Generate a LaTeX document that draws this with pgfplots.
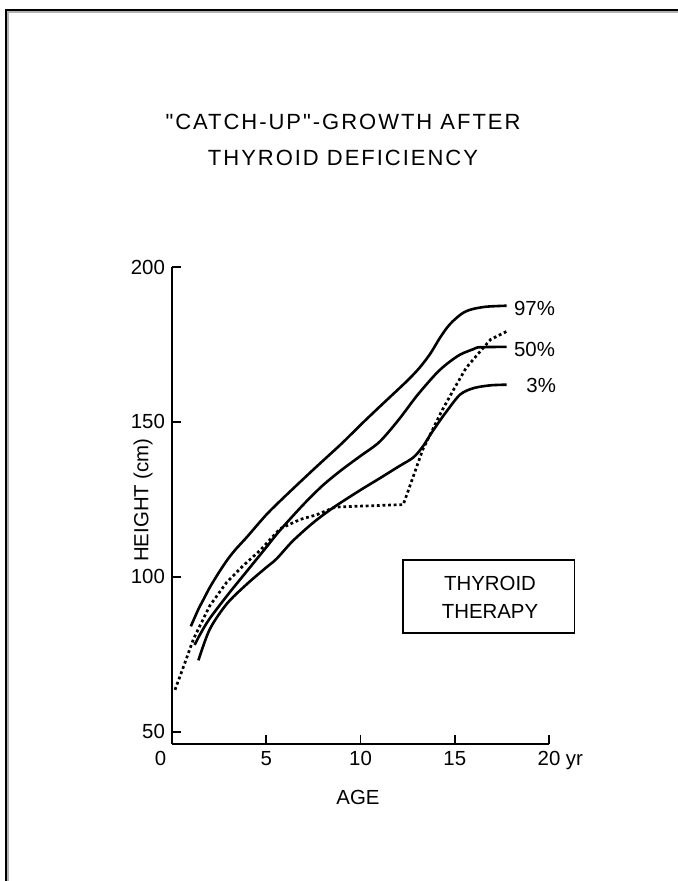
\documentclass[border=0pt]{standalone}
\usepackage{pgfplots}
\pgfplotsset{compat=1.18}
\usepackage{fontspec}
\setmainfont{Liberation Sans}
\newfontfamily\titlefont[LetterSpace=9,Ligatures=TeXOff]{Liberation Sans}

\pgfplotstableread{
age h
1.0 84
1.4 89.5
1.7 93
2.0 96.5
2.5 101.5
3.0 106
3.4 109
4.0 113
5.0 120
6.0 126
7.5 134.6
9.0 143
10.0 149
11.0 154.8
12.0 160.5
12.6 164
13.15 167.6
13.7 172
14.2 177
14.6 180.5
14.9 182.5
15.3 184.6
15.6 185.7
16.0 186.5
16.7 187.2
17.75 187.5
}\pcninetyseven

\pgfplotstableread{
age h
1.2 78
1.5 81.5
2.0 86.5
3.0 94.5
4.0 102
5.0 109.5
5.73 115
7.0 123.5
8.0 129.5
9.0 134.5
10.0 139
11.0 143.5
12.0 150.5
13.0 158.5
14.0 165.5
14.6 168.8
15.28 171.7
16.0 173.5
16.34 174.1
17.75 174.2
}\pcfifty

\pgfplotstableread{
age h
1.4 73
2.0 83
2.9 91.2
3.95 97.5
5.0 103
5.55 105.8
6.4 111.5
7.5 117.5
8.6 122.5
10.0 128
11.0 131.7
12.0 135.5
12.8 138.5
13.3 142
13.7 145.8
14.2 150.3
14.57 153.4
15.28 158.8
16.0 160.9
16.9 161.8
17.75 162.0
}\pcthree

\pgfplotstableread{
age h
0.16 63.5
0.69 72.3
1.13 79.8
2.0 90.6
2.9 98.2
3.78 103.6
4.67 108.5
5.73 115.5
6.8 118.5
7.67 120
8.65 122.5
12.27 123.3
13.3 141
14.3 153.4
14.9 160
15.6 167.4
16.2 171.7
16.9 176.6
17.85 179.5
}\patient

\begin{document}
\begin{tikzpicture}
\useasboundingbox (0,0) rectangle (339pt,-440.5pt);
% frame (top and left only)
\draw[gray!60, line width=0.6pt] (4pt,-440.5pt) -- (4pt,-6pt) -- (339pt,-6pt);
\draw[black, line width=1pt] (3pt,-440.5pt) -- (3pt,-5pt) -- (339pt,-5pt);

\node[font=\fontsize{11}{13}\titlefont] at (171.5pt,-60.9pt) {"CATCH-UP"-GROWTH AFTER};
\node[font=\fontsize{11}{13}\titlefont] at (171.5pt,-79pt) {THYROID DEFICIENCY};

\begin{axis}[
  at={(86pt,-372pt)}, anchor=south west,
  scale only axis, width=188.5pt, height=238.5pt,
  xmin=0, xmax=20, ymin=46, ymax=200,
  axis x line*=bottom, axis y line*=left,
  axis line style={line width=1pt,-},
  tick align=inside, major tick length=4.3pt,
  tick style={line width=0.9pt, black},
  xtick={0,5,10,15,20}, ytick={50,100,150,200},
  xticklabels={\llap{0}\phantom{0},5,10,15,20\rlap{\ yr}},
  ticklabel style={font=\fontsize{10.2}{12}\selectfont},
  /pgf/number format/assume math mode=true,
  clip=false,
]
\addplot[black, line width=1.3pt, smooth] table[x=age,y=h] {\pcninetyseven};
\addplot[black, line width=1.3pt, smooth] table[x=age,y=h] {\pcfifty};
\addplot[black, line width=1.3pt, smooth] table[x=age,y=h] {\pcthree};
\addplot[black, line width=1.35pt, dash pattern=on 1.4pt off 1.4pt] table[x=age,y=h] {\patient};
\end{axis}

\begin{scope}[font=\fontsize{10.2}{12}\selectfont]
\node[anchor=east] at (281pt,-154pt) {97\%};
\node[anchor=east] at (281pt,-174.5pt) {50\%};
\node[anchor=east] at (281.5pt,-192.5pt) {3\%};
\draw[line width=0.9pt] (201.3pt,-280pt) rectangle (287.2pt,-316.3pt);
\node at (245pt,-291.7pt) {THYROID};
\node at (245pt,-305.5pt) {THERAPY};
\node[rotate=90] at (71.5pt,-250pt) {HEIGHT (cm)};
\node at (179pt,-398.5pt) {AGE};
\end{scope}
\end{tikzpicture}
\end{document}
